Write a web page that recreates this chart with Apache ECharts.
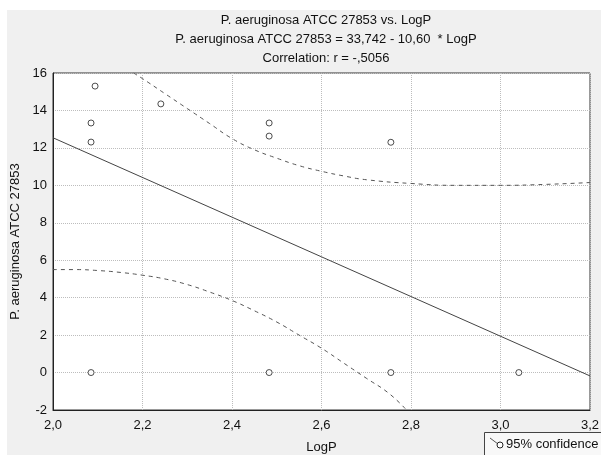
<!DOCTYPE html>
<html><head><meta charset="utf-8">
<script src="https://cdn.jsdelivr.net/npm/echarts@6/dist/echarts.min.js"></script>
<style>html,body{margin:0;padding:0;background:#fff}#c{width:601px;height:455px}</style>
</head><body><div id="c"></div>
<script>
// Observed points (LogP, P. aeruginosa ATCC 27853)
var pointX = [2.094, 2.085, 2.085, 2.085, 2.241, 2.483, 2.483, 2.483, 2.755, 2.755, 3.041];
var pointY = [15.3, 13.33, 12.31, 0, 14.35, 13.33, 12.63, 0, 12.3, 0, 0];
// Regression line endpoints (33,742 - 10,60 * LogP)
var fitX = [2.0, 3.2];
var fitY = [12.54, -0.18];
// 95% confidence band
var upperX = [2.18, 2.2, 2.25, 2.3, 2.35, 2.4, 2.45, 2.5, 2.55, 2.6, 2.65, 2.7, 2.8, 2.9, 3.0, 3.1, 3.2];
var upperY = [16.0, 15.7, 14.9, 14.1, 13.3, 12.5, 11.9, 11.45, 11.05, 10.75, 10.5, 10.3, 10.1, 10.0, 10.0, 10.05, 10.15];
var lowerX = [2.0, 2.05, 2.1, 2.15, 2.2, 2.25, 2.3, 2.35, 2.4, 2.45, 2.5, 2.55, 2.6, 2.65, 2.7, 2.75, 2.79];
var lowerY = [5.5, 5.5, 5.45, 5.35, 5.2, 5.0, 4.7, 4.3, 3.85, 3.3, 2.7, 2.0, 1.3, 0.5, -0.3, -1.1, -2.0];
var titleLines = ['P. aeruginosa ATCC 27853 vs. LogP', 'P. aeruginosa ATCC 27853 = 33,742 - 10,60  * LogP', 'Correlation: r = -,5056'];
var xName = 'LogP', yName = 'P. aeruginosa ATCC 27853', legendText = '95% confidence';

function zip(a, b) { return a.map(function (v, i) { return [v, b[i]]; }); }
var FONT = '"Liberation Sans", Arial, sans-serif';
var chart = echarts.init(document.getElementById('c'), null, { renderer: 'canvas' });
chart.setOption({
  animation: false,
  backgroundColor: '#fff',
  graphic: [
    { type: 'rect', z: -10, shape: { x: 7, y: 10, width: 594, height: 445 }, style: { fill: '#f0f0f0' } },
    { type: 'rect', z: 10, shape: { x: 484.5, y: 432.5, width: 130, height: 24 }, style: { fill: '#f8f8f8', stroke: '#444', lineWidth: 1 } },
    { type: 'line', z: 11, shape: { x1: 490, y1: 438, x2: 498, y2: 444 }, style: { stroke: '#555', lineWidth: 1 } },
    { type: 'circle', z: 12, shape: { cx: 500, cy: 445, r: 3 }, style: { fill: '#fff', stroke: '#222', lineWidth: 1 } },
    { type: 'text', z: 12, style: { x: 506, y: 444, text: legendText, font: '13px ' + FONT, fill: '#111', verticalAlign: 'middle' } }
  ],
  title: {
    text: titleLines.join('\n'),
    left: 321, top: 6, textAlign: 'center',
    textStyle: { fontFamily: FONT, fontSize: 13, fontWeight: 'normal', color: '#111', lineHeight: 19 }
  },
  grid: { left: 53, top: 73, right: 11, bottom: 45, outerBoundsMode: 'none', containLabel: false, show: true, backgroundColor: '#fff', borderColor: '#333', borderWidth: 1 },
  xAxis: {
    type: 'value', min: 2.0, max: 3.2, interval: 0.2,
    name: xName, nameLocation: 'middle', nameGap: 31,
    nameTextStyle: { fontFamily: FONT, fontSize: 13, color: '#111' },
    axisLine: { onZero: false, lineStyle: { color: '#222', width: 1 } },
    axisTick: { show: false },
    axisLabel: { fontFamily: FONT, fontSize: 13, color: '#111', margin: 9, formatter: function (v) { return v.toFixed(1).replace('.', ','); } },
    splitLine: { show: true, lineStyle: { color: '#bdbdbd', type: [1, 1], width: 1 } }
  },
  yAxis: {
    type: 'value', min: -2, max: 16, interval: 2,
    name: yName, nameLocation: 'middle', nameGap: 29, nameRotate: 90,
    nameTextStyle: { fontFamily: FONT, fontSize: 13, color: '#111' },
    axisLine: { show: true, onZero: false, lineStyle: { color: '#222', width: 1 } },
    axisTick: { show: false },
    axisLabel: { fontFamily: FONT, fontSize: 13, color: '#111', margin: 6 },
    splitLine: { show: true, lineStyle: { color: '#bdbdbd', type: [1, 1], width: 1 } }
  },
  series: [
    { type: 'line', data: zip(upperX, upperY), smooth: true, symbol: 'none', clip: true, lineStyle: { color: '#555', width: 1, type: [4, 4] }, z: 3 },
    { type: 'line', data: zip(lowerX, lowerY), smooth: true, symbol: 'none', clip: true, lineStyle: { color: '#555', width: 1, type: [4, 4] }, z: 3 },
    { type: 'line', data: zip(fitX, fitY), symbol: 'none', clip: true, lineStyle: { color: '#444', width: 1 }, z: 4 },
    { type: 'scatter', data: zip(pointX, pointY), symbol: 'circle', symbolSize: 6, itemStyle: { color: '#fff', borderColor: '#222', borderWidth: 1 }, z: 5 }
  ]
});
</script></body></html>
